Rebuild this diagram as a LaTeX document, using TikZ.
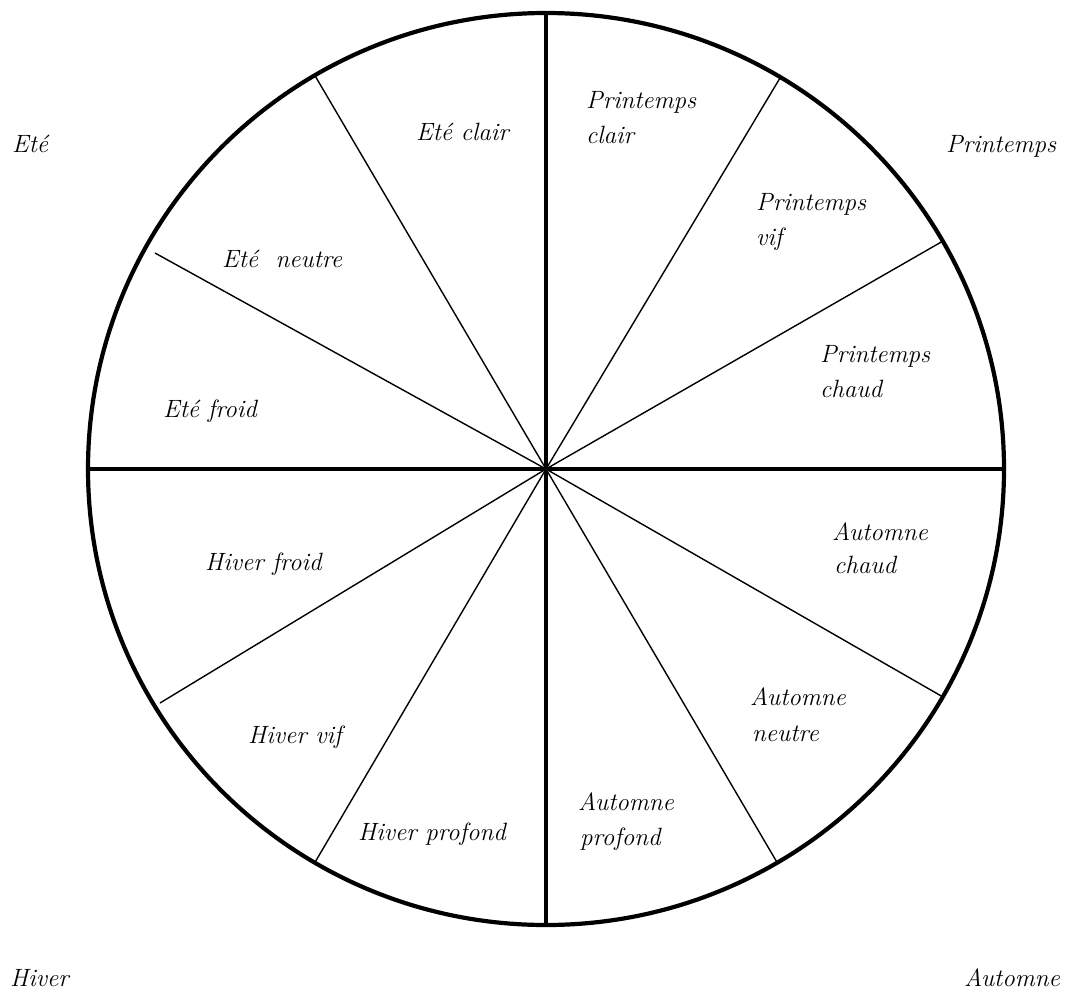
\documentclass[tikz,border=0pt]{standalone}
\begin{document}
\begin{tikzpicture}[x=1pt,y=-1pt,
  lbl/.style={anchor=base west,inner sep=0pt,font=\fontsize{25}{35}\selectfont\itshape},
  lblr/.style={anchor=base east,inner sep=0pt,font=\fontsize{25}{35}\selectfont\itshape},
  thickline/.style={line width=4.5pt},
  thinline/.style={line width=1.4pt}]
\useasboundingbox (0,0) rectangle (1066,996);
\coordinate (c) at (546,469);
% circle
\draw[line width=4.2pt] (c) ellipse [x radius=458pt, y radius=456pt];
% main axes
\coordinate (top) at (546,13);
\coordinate (bot) at (546,925);
\coordinate (lft) at (88,469);
\coordinate (rgt) at (1004,469);
\draw[thickline] (top) -- (bot);
\draw[thickline] (lft) -- (rgt);
% thin radii
\coordinate (r30) at (943,241);
\coordinate (r60) at (780,78);
\coordinate (r120) at (314,74);
\coordinate (r150) at (155,253);
\coordinate (r210) at (160,703);
\coordinate (r240) at (314,864);
\coordinate (r300) at (778,864);
\coordinate (r330) at (943,697);
\foreach \p in {r30,r60,r120,r150,r210,r240,r300,r330}
  \draw[thinline] (c) -- (\p);
% outer labels
\node[lbl] (ete) at (12,152) {Eté};
\node[lbl] (printemps) at (946,152) {Printemps};
\node[lbl] (hiver) at (10,986) {Hiver};
\node[lblr] (automne) at (1060,986) {Automne};
% sector labels
\node[lbl] (eteclair) at (416,140) {Eté clair};
\node[lbl] (pc1) at (586,108) {Printemps};
\node[lbl] (pc2) at (586,143) {clair};
\node[lbl] (pv1) at (756,210) {Printemps};
\node[lbl] (pv2) at (756,245) {vif};
\node[lbl] (eteneutre) at (222,267) {Eté\ \ neutre};
\node[lbl] (pch1) at (820,362) {Printemps};
\node[lbl] (pch2) at (820,397) {chaud};
\node[lbl] (etefroid) at (163,417) {Eté froid};
\node[lbl] (ac1) at (832,540) {Automne};
\node[lbl] (ac2) at (834,573) {chaud};
\node[lbl] (hiverfroid) at (205,570) {Hiver froid};
\node[lbl] (an1) at (750,705) {Automne};
\node[lbl] (an2) at (752,741) {neutre};
\node[lbl] (hivervif) at (248,743) {Hiver vif};
\node[lbl] (hiverprofond) at (358,840) {Hiver profond};
\node[lbl] (ap1) at (578,810) {Automne};
\node[lbl] (ap2) at (580,845) {profond};
\end{tikzpicture}
\end{document}
